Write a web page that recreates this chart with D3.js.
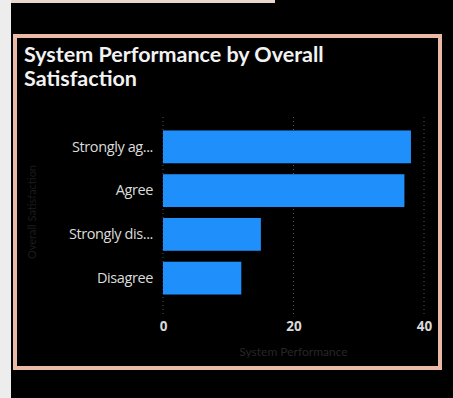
<!DOCTYPE html>
<html><head><meta charset="utf-8">
<script src="https://cdn.jsdelivr.net/npm/d3@7"></script>
<style>html,body{margin:0;padding:0;background:#000;}svg{display:block;}</style>
</head><body>
<svg id="c" width="453" height="398"></svg>
<script>
const categories = ["Strongly agree", "Agree", "Strongly disagree", "Disagree"];
const displayLabels = ["Strongly ag...", "Agree", "Strongly dis...", "Disagree"];
const values = [38, 37, 15, 12];
const xTicks = [0, 20, 40];
const title = ["System Performance by Overall", "Satisfaction"];
const xTitle = "System Performance";
const yTitle = "Overall Satisfaction";

const svg = d3.select("#c");
const font = "Lato, 'Open Sans', sans-serif";
const font2 = "'Open Sans', Lato, sans-serif";

// page backdrop
svg.append("rect").attr("width", 453).attr("height", 398).attr("fill", "#000");
svg.append("rect").attr("x", 0).attr("y", 0).attr("width", 11).attr("height", 398).attr("fill", "#ededed");
svg.append("rect").attr("x", 11).attr("y", 0).attr("width", 264).attr("height", 3).attr("fill", "#e8d6cf");

// card frame
svg.append("rect").attr("x", 15).attr("y", 36).attr("width", 425).attr("height", 332)
  .attr("fill", "#000").attr("stroke", "#ebbaa6").attr("stroke-width", 4);

// title
svg.append("text").attr("x", 24).attr("y", 0).attr("fill", "#f2f2f2")
  .style("font-family", font).style("font-weight", "bold").style("font-size", "21.5px")
  .selectAll("tspan").data(title).join("tspan")
  .attr("x", 24).attr("y", (d, i) => 62 + i * 24).text(d => d);

const x = d3.scaleLinear().domain([0, 40]).range([163, 424]);
const y = d3.scaleBand().domain(categories).range([125, 300]).paddingInner(0.25).paddingOuter(0.125);

// gridlines
svg.append("g").selectAll("line").data(xTicks).join("line")
  .attr("x1", d => x(d)).attr("x2", d => x(d)).attr("y1", 117).attr("y2", 316)
  .attr("stroke", "#555").attr("stroke-width", 1).attr("stroke-dasharray", "1,3");

// bars
svg.append("g").selectAll("rect").data(values).join("rect")
  .attr("x", x(0)).attr("y", (d, i) => y(categories[i]))
  .attr("width", d => x(d) - x(0)).attr("height", y.bandwidth())
  .attr("fill", "#1f8ffb");

// x axis
const xAxis = svg.append("g").attr("transform", "translate(0,320)")
  .call(d3.axisBottom(x).tickValues(xTicks).tickSize(0).tickPadding(1));
xAxis.select(".domain").remove();
xAxis.selectAll("text").attr("fill", "#d9d9d9").style("font-family", font2)
  .style("font-weight", "bold").style("font-size", "13.5px");

// y axis
const yAxis = svg.append("g").attr("transform", `translate(${x(0) - 10},0)`)
  .call(d3.axisLeft(y).tickSize(0).tickPadding(0).tickFormat((d, i) => displayLabels[i]));
yAxis.select(".domain").remove();
yAxis.selectAll("text").attr("fill", "#dcdcdc").style("font-family", font2)
  .style("font-size", "14.5px").style("letter-spacing", "-0.4px");

// axis titles
svg.append("text").attr("x", x(20)).attr("y", 356).attr("text-anchor", "middle")
  .attr("fill", "#262626").style("font-family", font).style("font-size", "12px").text(xTitle);
svg.append("text").attr("transform", `translate(36,212) rotate(-90)`).attr("text-anchor", "middle")
  .attr("fill", "#1c1c1c").style("font-family", font).style("font-size", "11px").text(yTitle);
</script>
</body></html>
